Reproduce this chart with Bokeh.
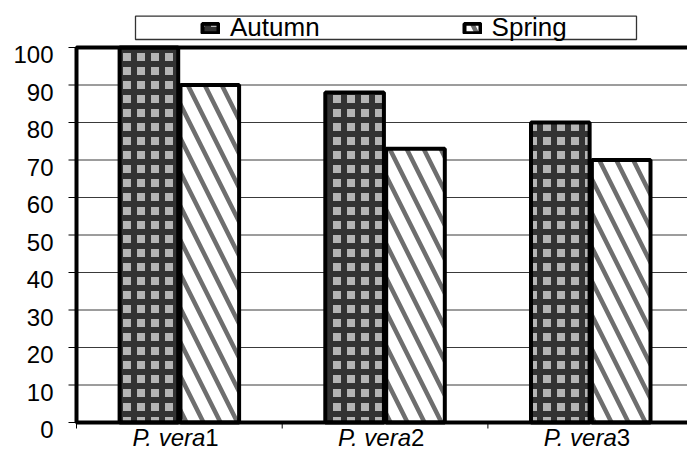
from bokeh.plotting import figure
from bokeh.models import (Range1d, Legend, LegendItem, BoxAnnotation,
                          ColumnDataSource)
from bokeh.transform import dodge
from bokeh.embed import file_html
from bokeh.resources import INLINE

# ---- data ----
species = ["P. vera", "P. vera", "P. vera"]
numbers = ["1", "2", "3"]
autumn = [100, 88, 80]
spring = [90, 73, 70]
y_ticks = [0, 10, 20, 30, 40, 50, 60, 70, 80, 90, 100]
y_tick_labels = [str(v) for v in y_ticks]
series_names = ["Autumn", "Spring"]

FONT = "Liberation Sans"
n = len(numbers)
xs = [i + 0.5 for i in range(n)]
boundaries = list(range(n + 1))

W, H = 687, 452
# pixel geometry of the plotting area inside the canvas
X0_PX, UNIT_PX = 76, 205.7          # x=0 position, pixels per category
Y0_PX, Y100_PX = 422, 47            # y=0 and y=100 positions
ypx = (Y0_PX - Y100_PX) / 100.0

x_range = Range1d(-X0_PX / UNIT_PX, (W - X0_PX) / UNIT_PX)
y_range = Range1d(-(H - Y0_PX) / ypx, 100 + Y100_PX / ypx)

p = figure(width=W, height=H, output_backend="svg", toolbar_location=None,
           x_range=x_range, y_range=y_range,
           min_border_left=0, min_border_right=0, min_border_top=0,
           min_border_bottom=0)
p.axis.visible = False
p.grid.visible = False
p.outline_line_color = None
p.background_fill_color = "white"
p.border_fill_color = "white"

ymax = max(y_ticks)

# grid lines
p.segment(x0=[0] * len(y_ticks), x1=[n] * len(y_ticks), y0=y_ticks, y1=y_ticks,
          line_color="#3a3a3a", line_width=1)

# y ticks + labels
p.segment(x0=[-8 / UNIT_PX] * len(y_ticks), x1=[0] * len(y_ticks),
          y0=y_ticks, y1=y_ticks, line_color="black", line_width=1)
p.text(x=[0] * len(y_ticks), y=y_ticks, text=y_tick_labels, x_offset=-23,
       y_offset=7, text_align="right", text_baseline="middle",
       text_font={"value": FONT}, text_font_size="24px", text_color="black")

# x ticks at category boundaries
p.segment(x0=boundaries, x1=boundaries, y0=[0] * len(boundaries),
          y1=[-6 / ypx] * len(boundaries), line_color="black", line_width=1)

src = ColumnDataSource(dict(x=xs, autumn=autumn, spring=spring))
bw = 0.285
off = 0.148
ra = p.vbar(x=dodge("x", -off, range=p.x_range), top="autumn", bottom=0, width=bw,
            source=src, fill_color="#b5b5b5", hatch_pattern="+",
            hatch_color="#333333", hatch_weight=6, hatch_scale=14,
            line_color="black", line_width=4)
rs = p.vbar(x=dodge("x", off, range=p.x_range), top="spring", bottom=0, width=bw,
            source=src, fill_color="white", hatch_pattern="\\",
            hatch_color="#6e6e6e", hatch_weight=4.5, hatch_scale=34,
            line_color="black", line_width=4)

# plot area border (thick)
p.add_layout(BoxAnnotation(left=0, right=n, bottom=0, top=ymax,
                           fill_alpha=0, line_color="black", line_width=4,
                           line_alpha=1))

# category labels: italic species + upright number (shared baseline)
lab_y = [-(437 - Y0_PX) / ypx] * n
p.text(x=xs, y=lab_y, text=species, x_offset=26, text_align="right",
       text_baseline="alphabetic", text_font={"value": FONT},
       text_font_style="italic", text_font_size="24px", text_color="black")
p.text(x=xs, y=lab_y, text=numbers, x_offset=26, text_align="left",
       text_baseline="alphabetic", text_font={"value": FONT},
       text_font_size="24px", text_color="black")

# legend box + legend
p.add_layout(BoxAnnotation(left=135, right=636, top=H - 15.7, bottom=H - 39,
                           left_units="screen", right_units="screen",
                           top_units="screen", bottom_units="screen",
                           fill_color="white", fill_alpha=1,
                           line_color="#333333", line_width=1.3, line_alpha=1))

legend = Legend(items=[LegendItem(label=series_names[0], renderers=[ra]),
                       LegendItem(label=series_names[1], renderers=[rs])],
                orientation="horizontal", location=(200, H - 43), padding=0,
                spacing=142, margin=0, label_standoff=10, glyph_width=20,
                glyph_height=12, border_line_color=None,
                background_fill_alpha=0, label_text_font=FONT,
                label_text_font_size="26px", label_text_color="black")
p.add_layout(legend)

open("out.html", "w").write(file_html(p, INLINE))
